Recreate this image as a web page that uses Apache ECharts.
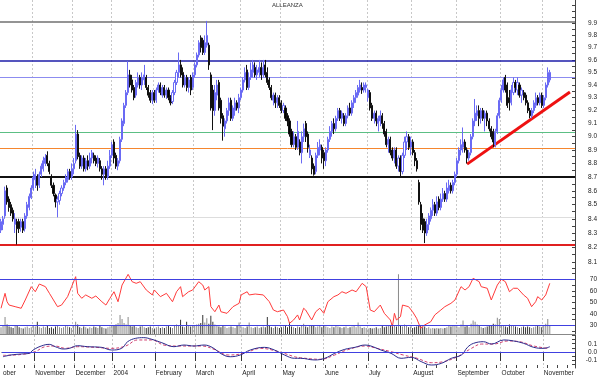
<!DOCTYPE html>
<html>
<head>
<meta charset="utf-8">
<script src="https://cdn.jsdelivr.net/npm/echarts@6/dist/echarts.min.js"></script>
<style>
html,body{margin:0;padding:0;background:#fff;}
#chart{width:600px;height:378px;}
</style>
</head>
<body>
<div id="chart"></div>
<script>
// slots on the x axis (trading days, with empty room after the last bar)
var slotCount = 285;
var days = [];
for (var d = 0; d < slotCount; d++) days.push(String(d));

// first trading day of each month (slot index) and its label
var monthIdx = [0, 16, 36, 55, 76, 96, 119, 139, 160, 182, 204, 226, 248, 269];
var monthNames = ['ober', 'November', 'December', '2004', 'February', 'March', 'April', 'May', 'June', 'July', 'August', 'September', 'October', 'November'];

// daily bars: [open, close, low, high]
var ohlc = [
[8.32,8.38,8.30,8.40],[8.36,8.40,8.32,8.42],[8.42,8.60,8.40,8.63],[8.62,8.52,8.50,8.64],[8.54,8.48,8.45,8.56],
[8.50,8.44,8.42,8.52],[8.46,8.40,8.38,8.48],[8.36,8.40,8.30,8.44],[8.38,8.33,8.22,8.40],[8.38,8.33,8.30,8.40],
[8.34,8.38,8.31,8.40],[8.38,8.32,8.30,8.40],[8.33,8.42,8.31,8.44],[8.42,8.50,8.40,8.52],[8.48,8.56,8.46,8.58],
[8.55,8.62,8.54,8.64],[8.62,8.70,8.60,8.74],[8.68,8.72,8.62,8.76],[8.70,8.64,8.60,8.72],[8.64,8.72,8.62,8.74],
[8.72,8.78,8.70,8.80],[8.76,8.82,8.74,8.85],[8.80,8.84,8.78,8.87],[8.86,8.80,8.78,8.89],[8.80,8.74,8.72,8.82],
[8.70,8.64,8.62,8.72],[8.64,8.58,8.56,8.66],[8.57,8.52,8.48,8.58],[8.52,8.54,8.41,8.56],[8.53,8.58,8.50,8.60],
[8.58,8.62,8.56,8.64],[8.62,8.66,8.60,8.68],[8.66,8.70,8.64,8.72],[8.68,8.74,8.66,8.76],[8.74,8.70,8.68,8.76],
[8.70,8.76,8.68,8.80],[8.76,8.80,8.72,8.84],[8.82,9.02,8.80,9.09],[9.02,8.85,8.83,9.05],[8.86,8.78,8.76,8.88],
[8.78,8.84,8.76,8.86],[8.84,8.76,8.74,8.86],[8.76,8.82,8.74,8.84],[8.82,8.78,8.75,8.86],[8.78,8.84,8.76,8.88],
[8.84,8.88,8.80,8.90],[8.86,8.82,8.80,8.88],[8.84,8.80,8.78,8.86],[8.80,8.84,8.77,8.86],[8.82,8.76,8.74,8.84],
[8.76,8.72,8.68,8.78],[8.72,8.76,8.64,8.78],[8.76,8.70,8.68,8.78],[8.70,8.78,8.68,8.82],[8.78,8.86,8.76,8.90],
[8.86,8.94,8.84,8.96],[8.96,8.84,8.80,8.98],[8.86,8.78,8.76,8.88],[8.78,8.82,8.75,8.84],[8.82,8.98,8.80,9.00],
[8.98,9.12,8.96,9.14],[9.10,9.24,9.08,9.26],[9.24,9.34,9.22,9.36],[9.34,9.48,9.32,9.59],[9.48,9.40,9.38,9.52],
[9.44,9.36,9.34,9.48],[9.38,9.30,9.28,9.40],[9.32,9.42,9.30,9.44],[9.40,9.46,9.38,9.50],[9.46,9.40,9.37,9.48],
[9.40,9.46,9.36,9.50],[9.44,9.48,9.40,9.56],[9.46,9.38,9.36,9.48],[9.38,9.32,9.30,9.40],[9.34,9.28,9.26,9.36],
[9.28,9.34,9.25,9.36],[9.34,9.28,9.26,9.36],[9.28,9.36,9.26,9.38],[9.36,9.40,9.34,9.42],[9.40,9.34,9.32,9.42],
[9.32,9.38,9.30,9.40],[9.38,9.32,9.30,9.40],[9.32,9.36,9.29,9.38],[9.36,9.30,9.28,9.38],[9.30,9.26,9.24,9.32],
[9.27,9.34,9.25,9.36],[9.34,9.42,9.32,9.44],[9.42,9.50,9.40,9.52],[9.50,9.56,9.46,9.66],[9.56,9.48,9.46,9.60],
[9.50,9.40,9.38,9.54],[9.40,9.46,9.38,9.48],[9.46,9.38,9.35,9.48],[9.38,9.44,9.34,9.46],[9.46,9.36,9.32,9.48],
[9.38,9.48,9.36,9.50],[9.48,9.56,9.46,9.58],[9.56,9.64,9.54,9.66],[9.64,9.74,9.62,9.76],[9.78,9.70,9.66,9.80],
[9.76,9.66,9.64,9.78],[9.66,9.74,9.64,9.80],[9.72,9.80,9.70,9.92],[9.72,9.56,9.52,9.74],[9.48,9.22,9.20,9.50],
[9.36,9.20,9.05,9.40],[9.20,9.34,9.16,9.40],[9.32,9.40,9.28,9.44],[9.42,9.22,9.20,9.44],[9.28,9.14,9.10,9.30],
[9.16,9.08,8.97,9.18],[9.06,9.12,9.00,9.14],[9.12,9.20,9.10,9.22],[9.20,9.26,9.16,9.30],[9.28,9.14,9.12,9.30],
[9.14,9.22,9.12,9.24],[9.20,9.26,9.16,9.30],[9.26,9.22,9.20,9.28],[9.22,9.30,9.18,9.33],[9.30,9.36,9.28,9.38],
[9.36,9.44,9.34,9.46],[9.44,9.50,9.42,9.54],[9.52,9.38,9.36,9.56],[9.38,9.46,9.36,9.50],[9.46,9.52,9.44,9.58],
[9.50,9.56,9.46,9.60],[9.54,9.48,9.46,9.58],[9.48,9.52,9.44,9.56],[9.50,9.54,9.46,9.60],[9.54,9.48,9.44,9.58],
[9.48,9.54,9.46,9.60],[9.56,9.48,9.46,9.60],[9.50,9.42,9.40,9.54],[9.44,9.38,9.36,9.46],[9.38,9.30,9.28,9.40],
[9.28,9.32,9.24,9.34],[9.32,9.26,9.22,9.34],[9.26,9.30,9.22,9.32],[9.30,9.24,9.22,9.32],[9.26,9.20,9.18,9.28],
[9.20,9.24,9.18,9.26],[9.22,9.14,9.12,9.24],[9.16,9.12,9.08,9.18],[9.12,9.02,9.00,9.14],[9.04,8.94,8.92,9.06],
[8.94,9.00,8.92,9.04],[9.00,8.92,8.90,9.02],[8.92,9.04,8.90,9.12],[8.96,8.88,8.86,8.98],[8.88,9.00,8.80,9.04],
[9.00,9.06,8.96,9.10],[9.10,9.00,8.96,9.12],[9.02,8.92,8.88,9.04],[8.86,8.90,8.84,8.94],[8.84,8.76,8.72,8.86],
[8.78,8.72,8.71,8.80],[8.74,8.86,8.72,8.88],[8.86,8.92,8.84,8.96],[8.90,8.94,8.86,8.98],[8.92,8.84,8.80,8.94],
[8.88,8.82,8.76,8.90],[8.82,8.90,8.78,8.92],[8.90,8.98,8.88,9.00],[8.98,9.04,8.96,9.08],[9.04,9.10,9.00,9.12],
[9.10,9.06,9.02,9.14],[9.06,9.14,9.04,9.16],[9.14,9.20,9.12,9.22],[9.20,9.14,9.12,9.22],[9.14,9.18,9.10,9.20],
[9.16,9.10,9.08,9.18],[9.10,9.16,9.08,9.18],[9.16,9.22,9.14,9.24],[9.22,9.18,9.16,9.26],[9.18,9.26,9.16,9.28],
[9.26,9.30,9.22,9.32],[9.30,9.34,9.26,9.36],[9.32,9.38,9.30,9.40],[9.36,9.40,9.34,9.44],[9.38,9.36,9.33,9.42],
[9.36,9.40,9.34,9.42],[9.38,9.40,9.34,9.42],[9.30,9.36,9.27,9.37],[9.34,9.22,9.20,9.36],[9.24,9.14,9.12,9.26],
[9.14,9.18,9.10,9.20],[9.18,9.12,9.08,9.20],[9.10,9.14,9.04,9.16],[9.12,9.16,9.08,9.20],[9.16,9.10,9.06,9.18],
[9.10,9.02,9.00,9.12],[9.04,8.94,8.92,9.06],[8.94,8.98,8.88,9.00],[8.98,8.88,8.86,9.00],[8.90,8.84,8.82,8.92],
[8.84,8.90,8.80,8.92],[8.90,8.78,8.76,8.92],[8.78,8.84,8.74,8.86],[8.84,8.74,8.70,8.86],[8.74,8.86,8.72,8.88],
[8.86,8.96,8.84,9.00],[8.96,9.00,8.90,9.04],[9.00,8.92,8.90,9.02],[8.92,8.96,8.86,9.00],[8.96,8.88,8.86,8.98],
[8.88,8.82,8.78,8.90],[8.82,8.76,8.74,8.84],[8.66,8.52,8.50,8.68],[8.50,8.36,8.32,8.52],[8.40,8.32,8.30,8.44],
[8.38,8.30,8.23,8.40],[8.30,8.36,8.28,8.40],[8.36,8.42,8.32,8.44],[8.40,8.46,8.38,8.48],[8.46,8.50,8.42,8.54],
[8.50,8.44,8.42,8.52],[8.44,8.52,8.42,8.56],[8.54,8.48,8.46,8.56],[8.48,8.54,8.46,8.58],[8.54,8.58,8.52,8.62],
[8.58,8.54,8.52,8.60],[8.54,8.62,8.52,8.66],[8.60,8.64,8.58,8.68],[8.64,8.60,8.58,8.66],[8.60,8.66,8.58,8.68],
[8.66,8.72,8.64,8.74],[8.72,8.82,8.70,8.84],[8.82,8.90,8.80,8.92],[8.90,8.94,8.86,8.98],[8.92,8.96,8.88,9.07],
[8.96,8.90,8.88,8.98],[8.90,8.84,8.80,8.92],[8.84,8.88,8.82,8.90],[8.88,9.00,8.86,9.02],[9.00,9.12,8.98,9.14],
[9.12,9.18,9.08,9.29],[9.16,9.20,9.12,9.24],[9.20,9.14,9.08,9.24],[9.14,9.20,9.10,9.22],[9.20,9.14,9.12,9.22],
[9.14,9.18,9.04,9.20],[9.18,9.12,9.08,9.20],[9.12,9.06,9.04,9.14],[9.06,9.00,8.98,9.08],[9.04,8.96,8.92,9.06],
[8.94,9.04,8.92,9.06],[9.04,9.16,9.02,9.18],[9.16,9.28,9.14,9.30],[9.28,9.36,9.26,9.40],[9.36,9.44,9.34,9.46],
[9.46,9.36,9.34,9.48],[9.40,9.24,9.22,9.42],[9.30,9.26,9.20,9.36],[9.26,9.36,9.24,9.40],[9.34,9.42,9.32,9.46],
[9.42,9.38,9.34,9.44],[9.36,9.42,9.32,9.46],[9.40,9.32,9.30,9.42],[9.32,9.36,9.26,9.38],[9.34,9.30,9.28,9.36],
[9.32,9.26,9.24,9.34],[9.26,9.20,9.18,9.28],[9.20,9.16,9.14,9.22],[9.16,9.20,9.14,9.22],[9.20,9.26,9.18,9.28],
[9.24,9.30,9.22,9.34],[9.30,9.26,9.24,9.32],[9.26,9.32,9.24,9.34],[9.32,9.24,9.22,9.34],[9.24,9.30,9.22,9.32],
[9.30,9.40,9.28,9.42],[9.40,9.50,9.38,9.54],[9.44,9.50,9.42,9.52]
];

// daily volume (relative units)
var volume = [
10,12,25,14,11,10,9,12,13,10,9,8,10,11,9,10,12,11,18,10,
9,11,10,12,9,10,8,11,13,10,9,10,12,11,10,9,12,18,14,10,
9,11,10,8,10,9,11,10,9,12,10,9,8,10,11,13,12,14,16,28,
22,16,14,25,13,11,12,10,9,11,12,10,9,10,11,9,8,10,11,9,
10,9,11,12,10,9,13,14,12,21,11,10,18,12,11,13,12,14,15,16,
28,17,23,15,27,18,14,12,11,10,12,11,9,10,11,10,9,12,17,11,
10,9,11,17,10,9,10,11,9,10,11,10,25,12,10,9,11,10,9,10,
11,12,10,17,11,10,9,11,10,12,15,11,10,12,13,12,10,11,13,10,
12,11,10,9,11,10,12,11,10,9,10,11,9,10,11,12,10,17,11,9,
10,9,8,9,8,9,10,8,9,12,10,11,13,12,14,12,11,88,13,11,
14,12,10,11,9,10,11,12,13,10,11,9,10,8,9,8,9,8,9,8,
9,10,12,11,13,12,11,10,14,20,11,12,10,15,20,18,14,12,10,9,
10,11,12,13,15,14,24,22,13,12,11,10,14,13,12,11,10,9,10,11,
10,11,10,9,10,11,12,11,10,13,15,22,12
];

// RSI readings [slot, value]
var rsi = [
[0,44.8],[2,57.8],[3,50.5],[4,47.6],[7,46.2],[10,44.8],[12,52],[15,63.6],[17,59.2],[19,65.9],
[22,63.6],[24,57.8],[28,46.2],[30,47.6],[33,54.9],[35,63.6],[37,72.3],[38,57.8],[40,53.5],[42,56.4],
[45,53.5],[47,55.5],[50,50.5],[52,47.6],[54,53.5],[56,59.2],[58,50.5],[60,65],[63,74.3],[65,67.9],
[67,66.5],[69,67.9],[72,60.7],[75,56.4],[76,60.7],[79,54.9],[82,57.8],[85,50.5],[87,59.2],[89,63.6],
[90,54.9],[93,59.2],[95,60.7],[98,67.9],[100,65],[101,60.7],[103,63.6],[104,46.2],[106,41.8],[108,47.6],
[109,41.8],[112,40.4],[115,46.2],[118,49.1],[119,56.4],[122,59.2],[123,56.4],[126,57.2],[130,56.4],[133,50.5],
[135,43.3],[137,41.8],[140,43.3],[142,37.5],[143,31.7],[145,34.6],[147,39],[148,34.6],[150,44.8],[151,43.3],
[154,34.6],[156,41.8],[158,44.8],[160,40.4],[162,50.5],[165,54.9],[167,56.4],[169,59.2],[171,57.8],[174,60.7],
[176,59.2],[179,66.5],[181,63.6],[183,43.3],[185,41.8],[188,47.6],[190,40.4],[193,34.6],[194,28.8],[195,40.4],
[196,34.6],[198,37.5],[199,47.6],[202,46.2],[204,41.8],[206,36.1],[208,27.4],[210,30.3],[213,33.1],[215,39],
[218,43.3],[220,46.2],[223,49.1],[225,52],[228,63.6],[230,60.7],[232,63.6],[234,70.9],[237,67.9],[238,63.6],
[241,62.2],[243,52],[246,65],[248,70],[250,67.9],[252,59.2],[254,62.2],[256,62.2],[259,56.4],[261,53.5],
[263,46.2],[265,50.5],[266,54.9],[268,52],[270,56.4],[272,66.5]
];

// MACD and signal readings [slot, value]
var macd = [
[0,-0.057],[4,-0.036],[9,-0.024],[13,-0.016],[15,0.024],[19,0.072],[23,0.092],[26,0.064],[30,0.036],[33,0.044],
[37,0.076],[42,0.064],[49,0.056],[54,0.024],[59,0.044],[62,0.124],[66,0.165],[70,0.173],[74,0.153],[79,0.112],
[85,0.064],[90,0.084],[95,0.072],[100,0.084],[104,0.056],[109,-0.028],[113,-0.057],[118,-0.036],[123,0.024],[130,0.056],
[135,0.024],[140,-0.036],[145,-0.076],[148,-0.076],[155,-0.096],[160,-0.076],[165,-0.016],[170,0.032],[175,0.056],[180,0.084],
[183,0.072],[188,0.024],[193,-0.016],[198,-0.076],[203,-0.064],[208,-0.116],[213,-0.157],[218,-0.137],[223,-0.076],[228,-0.036],
[231,0.056],[234,0.104],[239,0.124],[243,0.096],[249,0.145],[254,0.133],[259,0.104],[264,0.056],[269,0.044],[272,0.064]
];
var signal = [
[0,-0.04],[9,-0.03],[16,0.004],[21,0.064],[26,0.072],[31,0.044],[37,0.064],[46,0.056],[54,0.044],[61,0.072],
[67,0.145],[74,0.145],[80,0.084],[87,0.072],[99,0.072],[105,0.032],[112,-0.036],[120,-0.016],[128,0.044],[137,0.004],
[145,-0.057],[148,-0.07],[158,-0.088],[165,-0.036],[171,0.024],[180,0.072],[186,0.044],[193,0.004],[199,-0.036],[206,-0.076],
[213,-0.129],[219,-0.117],[226,-0.057],[233,0.044],[238,0.096],[244,0.096],[251,0.133],[257,0.124],[264,0.072],[271,0.044]
];

// horizontal price levels
var levels = [
  {price: 9.91, color: '#707070', width: 1.5},
  {price: 9.59, color: '#1c1ca8', width: 1.5},
  {price: 9.46, color: '#8c8cf0', width: 1},
  {price: 9.03, color: '#5cbf84', width: 1},
  {price: 8.91, color: '#f5862e', width: 1},
  {price: 8.70, color: '#111111', width: 2},
  {price: 8.41, color: '#dddddd', width: 1},
  {price: 8.22, color: '#e02020', width: 2}
];
// trend line: [slot, price] endpoints
var trend = [[231, 8.795], [282, 9.344]];

var priceLabels = [8.1,8.2,8.3,8.4,8.5,8.6,8.7,8.8,8.9,9.0,9.1,9.2,9.3,9.4,9.5,9.6,9.7,9.8,9.9];
var rsiLabels = [30,40,50,60,70];
var macdLabels = [-0.1,0,0.1];

var ln = Math.log;
var font = 'Liberation Sans';
var guideBlue = {color: '#4040e0', width: 1, type: 'solid'};
var isMonth = function (i) { return monthIdx.indexOf(i) > 0; };

var priceTicks = [];
for (var t = 0; t < 42; t++) priceTicks.push(ln(8.05 + t * 0.05));

var gridSplit = {show: true, interval: function (i) { return isMonth(i); }, lineStyle: {color: '#c8c8c8', type: [2, 2], width: 1}};

var chart = echarts.init(document.getElementById('chart'), null, {renderer: 'canvas'});
chart.setOption({
  animation: false,
  backgroundColor: '#fff',
  title: {text: 'ALLEANZA', left: 272, top: 2, padding: 0, textStyle: {fontSize: 6, fontWeight: 'normal', color: '#333', fontFamily: font}},
  grid: [
    {left: 0, right: 25, top: 0, height: 266},
    {left: 0, right: 25, top: 266, height: 68},
    {left: 0, right: 25, top: 335, height: 33}
  ],
  xAxis: [
    {type: 'category', gridIndex: 0, data: days, axisLine: {show: false}, axisTick: {show: false}, axisLabel: {show: false}, splitLine: gridSplit},
    {type: 'category', gridIndex: 1, data: days, axisLine: {show: true, lineStyle: {color: '#888', width: 1}}, axisTick: {show: false}, axisLabel: {show: false}, splitLine: gridSplit},
    {type: 'category', gridIndex: 2, data: days, position: 'bottom',
      axisLine: {show: true, lineStyle: {color: '#333', width: 1}},
      axisTick: {show: true, interval: function (i) { return isMonth(i); }, length: 9, lineStyle: {color: '#333'}},
      axisLabel: {show: true, interval: function (i) { return monthIdx.indexOf(i) >= 0; }, align: 'left', margin: 2,
        formatter: function (v, i) { return monthNames[monthIdx.indexOf(i)]; }, fontSize: 6.5, color: '#222', fontFamily: font},
      splitLine: gridSplit},
    {type: 'category', gridIndex: 2, data: days, position: 'bottom', axisLine: {show: false},
      axisTick: {show: true, inside: true, length: 3, interval: function (i) { return (i - 16) % 5 === 0; }, lineStyle: {color: '#444'}},
      axisLabel: {show: false}, splitLine: {show: false}}
  ],
  yAxis: [
    {type: 'value', gridIndex: 0, position: 'right', min: ln(8.073), max: ln(10.096),
      axisLine: {show: true, lineStyle: {color: '#444'}},
      axisTick: {show: true, inside: true, length: 3, customValues: priceTicks, lineStyle: {color: '#444'}},
      axisLabel: {show: true, customValues: priceLabels.map(ln), formatter: function (v) { return Math.exp(v).toFixed(1); },
        align: 'right', margin: 22, fontSize: 6.5, color: '#222', fontFamily: font},
      splitLine: {show: false}},
    {type: 'value', gridIndex: 1, position: 'right', min: 22.43, max: 81.57,
      axisLine: {show: true, lineStyle: {color: '#444'}},
      axisTick: {show: true, inside: true, length: 3, customValues: [25,30,35,40,45,50,55,60,65,70,75,80], lineStyle: {color: '#444'}},
      axisLabel: {show: true, customValues: rsiLabels, align: 'right', margin: 22, fontSize: 6.5, color: '#222', fontFamily: font},
      splitLine: {show: false}},
    {type: 'value', gridIndex: 1, position: 'right', min: 0, max: 100, show: false, splitLine: {show: false}},
    {type: 'value', gridIndex: 2, position: 'right', min: -0.193, max: 0.205,
      axisLine: {show: true, lineStyle: {color: '#444'}},
      axisTick: {show: true, inside: true, length: 3, customValues: [-0.15,-0.1,-0.05,0,0.05,0.1,0.15,0.2], lineStyle: {color: '#444'}},
      axisLabel: {show: true, customValues: macdLabels, formatter: function (v) { return v.toFixed(1); },
        align: 'right', margin: 22, fontSize: 6.5, color: '#222', fontFamily: font},
      splitLine: {show: false}}
  ],
  series: [
    {type: 'candlestick', xAxisIndex: 0, yAxisIndex: 0, barWidth: 1.6, z: 3,
      data: ohlc.map(function (r) { return r.map(ln); }),
      itemStyle: {color: '#ffffff', color0: '#000000', borderColor: '#6a6af4', borderColor0: '#111111', borderWidth: 1},
      markLine: {silent: true, symbol: 'none', label: {show: false}, precision: 8, z: 1,
        data: levels.map(function (l) { return {yAxis: ln(l.price), lineStyle: {color: l.color, width: l.width, type: 'solid'}}; }).concat([
          [{coord: [trend[0][0], ln(trend[0][1])]}, {coord: [trend[1][0], ln(trend[1][1])], lineStyle: {color: '#ee1111', width: 3, type: 'solid'}}]
        ])}
    },
    {type: 'bar', xAxisIndex: 1, yAxisIndex: 2, barWidth: 1,
      data: volume.map(function (v, i) { return {value: v, itemStyle: {color: ohlc[i][1] < ohlc[i][0] ? '#333333' : '#8a8a8a'}}; })},
    {type: 'line', xAxisIndex: 1, yAxisIndex: 1, data: rsi, symbol: 'none', z: 3, lineStyle: {color: '#ff3b3b', width: 1},
      markLine: {silent: true, symbol: 'none', label: {show: false}, precision: 8,
        data: [{yAxis: 70, lineStyle: guideBlue}, {yAxis: 30, lineStyle: guideBlue}]}},
    {type: 'line', xAxisIndex: 2, yAxisIndex: 3, data: signal, symbol: 'none', smooth: 0.4, lineStyle: {color: '#d04070', width: 1, type: [3, 2]},
      markLine: {silent: true, symbol: 'none', label: {show: false}, precision: 8, data: [{yAxis: 0, lineStyle: guideBlue}]}},
    {type: 'line', xAxisIndex: 2, yAxisIndex: 3, data: macd, symbol: 'none', smooth: 0.4, lineStyle: {color: '#2a2a8c', width: 1}}
  ]
});
</script>
</body>
</html>
